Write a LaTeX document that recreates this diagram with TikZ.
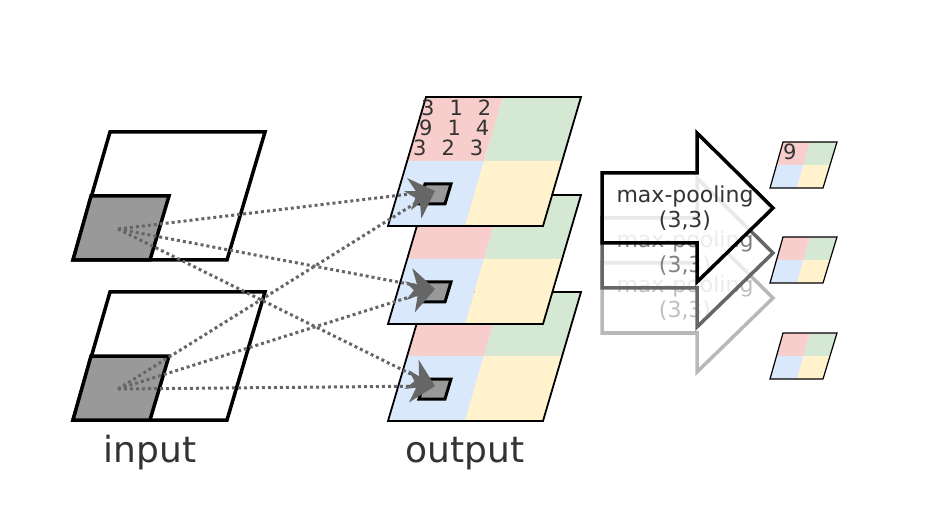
\documentclass[tikz,border=0pt]{standalone}
\usepackage{fontspec}
\setmainfont{DejaVu Sans}
\usetikzlibrary{arrows.meta}
\definecolor{cred}{HTML}{F8CECC}
\definecolor{cgreen}{HTML}{D5E8D4}
\definecolor{cblue}{HTML}{DAE8FC}
\definecolor{cyellow}{HTML}{FFF2CC}
\definecolor{cpatch}{HTML}{999999}
\definecolor{cdot}{HTML}{666666}
\definecolor{ctext}{HTML}{333333}
\tikzstyle{every node}=[inner sep=0pt,text=ctext]
\tikzstyle{inbox}=[draw=black,line width=3.5pt,fill=white]
\tikzstyle{patch}=[draw=black,line width=3.5pt,fill=cpatch]
\tikzstyle{layer}=[draw=black,line width=1.8pt]
\tikzstyle{cell}=[draw=black,line width=3pt,fill=cpatch]
\tikzstyle{link}=[draw=cdot,line width=3pt,dash pattern=on 3pt off 3pt,-{Stealth[length=26pt,width=32pt,inset=8pt]}]
\tikzstyle{pool}=[line width=3.5pt,fill=white]

\begin{document}
\begin{tikzpicture}[x=1pt,y=-1pt]
  \useasboundingbox (0,0) rectangle (929,521);
  % input maps
  \foreach \dy/\n in {0/1,160/2}{
    \begin{scope}[shift={(0,\dy)}]
      \draw[inbox] (73,260) -- (227,260) -- (265,132) -- (110,132) -- cycle;
      \draw[patch] (73,260) -- (150,260) -- (169,196) -- (91,196) -- cycle;
      \coordinate (in\n) at (118,229);
    \end{scope}
  }
  % output maps
  \foreach \dy/\n in {195/3,98/2,0/1}{
    \begin{scope}[shift={(0,\dy)}]
      \fill[cred] (426,97) -- (503,97) -- (484,161) -- (407,161) -- cycle;
      \fill[cgreen] (503,97) -- (581,97) -- (562,161) -- (484,161) -- cycle;
      \fill[cblue] (407,161) -- (484,161) -- (465,226) -- (388,226) -- cycle;
      \fill[cyellow] (484,161) -- (562,161) -- (543,226) -- (465,226) -- cycle;
      \draw[layer] (426,97) -- (581,97) -- (543,226) -- (388,226) -- cycle;
      \draw[cell] (425,184) -- (451,184) -- (445,204) -- (419,204) -- cycle;
      \coordinate (out\n) at (435,191);
    \end{scope}
  }
  \node[anchor=base west,font=\fontsize{21}{21}\selectfont] (r1) at (421,116) {3\hskip15pt1\hskip15pt2};
  \node[anchor=base west,font=\fontsize{21}{21}\selectfont] (r2) at (419,136) {9\hskip15pt1\hskip15pt4};
  \node[anchor=base west,font=\fontsize{21}{21}\selectfont] (r3) at (413,156) {3\hskip15pt2\hskip15pt3};
  % connections
  \foreach \s in {1,2}
    \foreach \t in {1,2,3}
      \draw[link] (in\s) -- (out\t);
  % pooling arrows
  \foreach \dy/\c/\tc/\op/\n in {90/black!28/black!25/0.6/3,45/black!60/black!50/0.7/2,0/black/ctext/0.85/1}{
    \begin{scope}[shift={(0,\dy)}]
      \draw[pool,draw=\c,fill opacity=\op] (602,173) -- (697,173) -- (697,133) -- (773,208)
        -- (697,282) -- (697,243) -- (602,243) -- cycle;
      \node[align=center,text=\tc,font=\fontsize{22}{25}\selectfont] (p\n) at (685,208) {max-pooling\\(3,3)};
    \end{scope}
  }
  % pooled maps
  \foreach \dy/\n in {0/1,95/2,191/3}{
    \begin{scope}[shift={(0,\dy)}]
      \fill[cred] (783,142) -- (810,142) -- (803.5,165) -- (776.5,165) -- cycle;
      \fill[cgreen] (810,142) -- (837,142) -- (830,165) -- (803.5,165) -- cycle;
      \fill[cblue] (776.5,165) -- (803.5,165) -- (797,188) -- (770,188) -- cycle;
      \fill[cyellow] (803.5,165) -- (830,165) -- (823,188) -- (797,188) -- cycle;
      \draw[black,line width=1.2pt] (783,142) -- (837,142) -- (823,188) -- (770,188) -- cycle;
    \end{scope}
  }
  \node[anchor=base west,font=\fontsize{21}{21}\selectfont] (nine) at (783,160) {9};
  % labels
  \node[anchor=base,font=\fontsize{36}{36}\selectfont] (input) at (150,462) {input};
  \node[anchor=base,font=\fontsize{36}{36}\selectfont] (output) at (465,462) {output};
\end{tikzpicture}
\end{document}
